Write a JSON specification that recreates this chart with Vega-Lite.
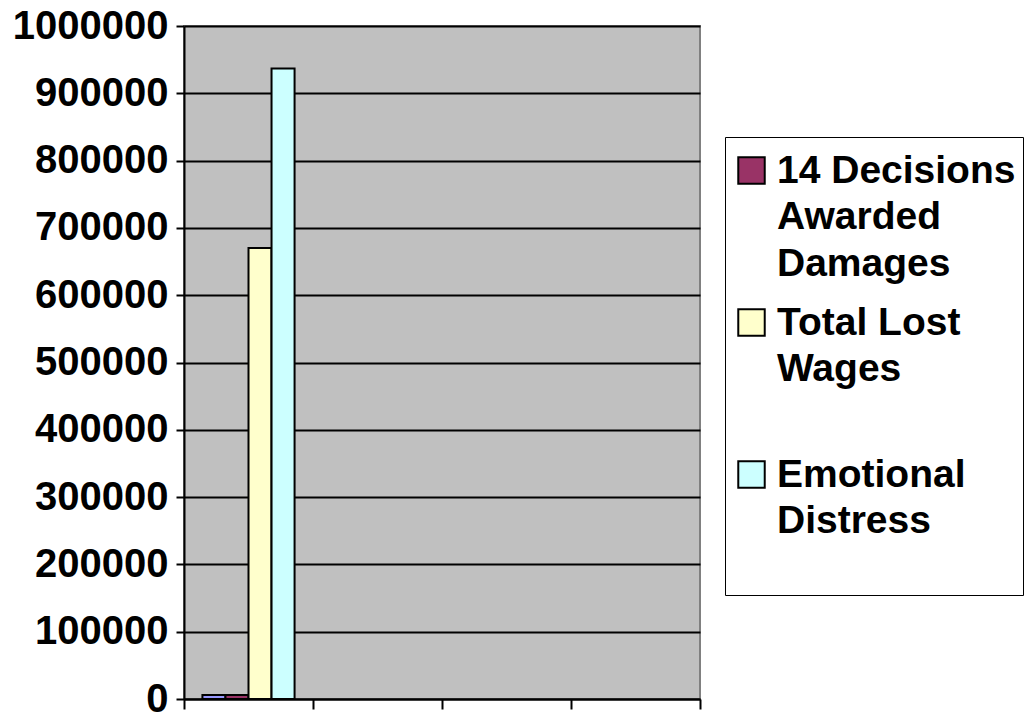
{
  "$schema": "https://vega.github.io/schema/vega-lite/v6.json",
  "autosize": "none",
  "width": 516,
  "height": 673,
  "padding": {"left": 184, "top": 26, "right": 326, "bottom": 16},
  "background": "white",
  "data": {
    "values": [
      {"category": "1", "series": "Series 1", "value": 6000},
      {"category": "1", "series": "14 Decisions Awarded Damages", "value": 6000},
      {"category": "1", "series": "Total Lost Wages", "value": 670000},
      {"category": "1", "series": "Emotional Distress", "value": 937000}
    ]
  },
  "config": {
    "view": {"fill": "#C0C0C0", "stroke": "#808080", "strokeWidth": 2},
    "font": "Liberation Sans",
    "style": {"guide-label": {"lineHeight": 46.5}}
  },
  "mark": {"type": "bar", "stroke": "black", "strokeWidth": 2},
  "encoding": {
    "x": {
      "field": "category",
      "type": "nominal",
      "scale": {"domain": ["1", "2", "3", "4"], "paddingInner": 0, "paddingOuter": 0},
      "axis": {
        "labels": false,
        "title": null,
        "domainColor": "black",
        "domainWidth": 2,
        "tickColor": "black",
        "tickWidth": 2,
        "tickSize": 10,
        "tickBand": "extent",
        "grid": false
      }
    },
    "xOffset": {
      "field": "series",
      "type": "nominal",
      "scale": {"domain": ["Series 1", "14 Decisions Awarded Damages", "Total Lost Wages", "Emotional Distress"], "paddingInner": 0, "paddingOuter": 0.8}
    },
    "y": {
      "field": "value",
      "type": "quantitative",
      "scale": {"domain": [0, 1000000], "nice": false},
      "axis": {
        "title": null,
        "values": [0, 100000, 200000, 300000, 400000, 500000, 600000, 700000, 800000, 900000, 1000000],
        "format": "d",
        "labelFont": "Liberation Sans",
        "labelFontSize": 40,
        "labelFontWeight": "bold",
        "labelColor": "black",
        "labelPadding": 8,
        "tickColor": "black",
        "tickWidth": 2,
        "tickSize": 8,
        "domainColor": "black",
        "domainWidth": 2,
        "grid": true,
        "gridColor": "black",
        "gridWidth": 2,
        "gridOpacity": 1
      }
    },
    "color": {
      "field": "series",
      "type": "nominal",
      "scale": {
        "domain": ["Series 1", "14 Decisions Awarded Damages", "Total Lost Wages", "Emotional Distress"],
        "range": ["#9999FF", "#993366", "#FFFFCC", "#CCFFFF"]
      },
      "legend": {
        "values": ["14 Decisions Awarded Damages", "Total Lost Wages", "Emotional Distress"],
        "title": " ",
        "titleFontSize": 2,
        "titlePadding": 5,
        "orient": "none",
        "legendX": 541,
        "legendY": 111,
        "strokeColor": "black",
        "padding": 7,
        "symbolType": "square",
        "symbolSize": 700,
        "symbolStrokeColor": "black",
        "symbolStrokeWidth": 2,
        "symbolOpacity": 1,
        "labelFont": "Liberation Sans",
        "labelFontSize": 39,
        "labelFontWeight": "bold",
        "labelColor": "black",
        "labelOffset": 6,
        "labelLimit": 400,
        "rowPadding": 19,
        "labelExpr": "datum.label == '14 Decisions Awarded Damages' ? ['14 Decisions','Awarded','Damages'] : datum.label == 'Total Lost Wages' ? ['Total Lost','Wages',' '] : ['Emotional','Distress',' ']"
      }
    }
  }
}
